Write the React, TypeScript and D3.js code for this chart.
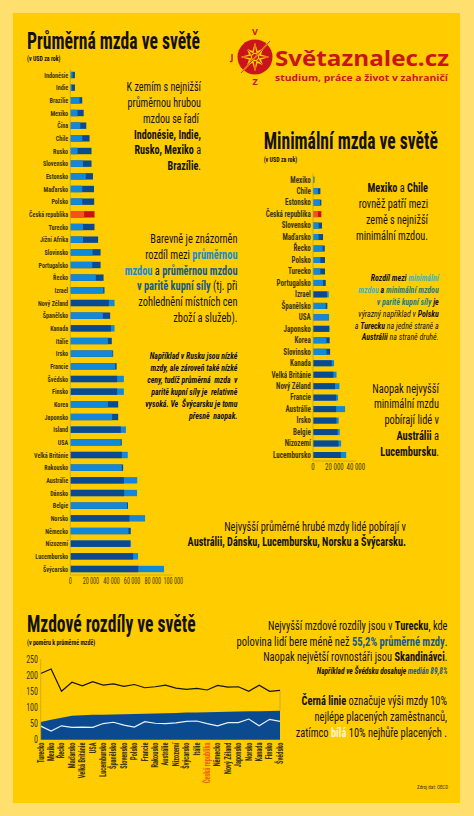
import React, { useEffect, useRef } from 'react';
import * as d3 from 'd3';

const avgCountries = ['Indonésie', 'Indie', 'Brazílie', 'Mexiko', 'Čína', 'Chile', 'Rusko', 'Slovensko', 'Estonsko', 'Maďarsko', 'Polsko', 'Česká republika', 'Turecko', 'Jižní Afrika', 'Slovinsko', 'Portugalsko', 'Řecko', 'Izrael', 'Nový Zéland', 'Španělsko', 'Kanada', 'Itálie', 'Irsko', 'Francie', 'Švédsko', 'Finsko', 'Korea', 'Japonsko', 'Island', 'USA', 'Velká Británie', 'Rakousko', 'Austrálie', 'Dánsko', 'Belgie', 'Norsko', 'Německo', 'Nizozemí', 'Lucembursko', 'Švýcarsko'];
const avgNominal = [2200, 1500, 9000, 7000, 9700, 11600, 7000, 12300, 15000, 11600, 11600, 13500, 12300, 12300, 21600, 21300, 24800, 32000, 43000, 31600, 43000, 36500, 41000, 43500, 52000, 52000, 36500, 40600, 54000, 49000, 55800, 50000, 65000, 64800, 55000, 72600, 56500, 59000, 65800, 91000];
const avgPpp = [4500, 4500, 11600, 13000, 15500, 18700, 20600, 20600, 22000, 23000, 23200, 23500, 23500, 27000, 29400, 29400, 32300, 33200, 37400, 38700, 39400, 40300, 41600, 45000, 45500, 45500, 46500, 46500, 49000, 50000, 50000, 51300, 52000, 52300, 56000, 57400, 58700, 58000, 61000, 66000];
const avgTicks = [0, 20000, 40000, 60000, 80000, 100000];

const minCountries = ['Mexiko', 'Chile', 'Estonsko', 'Česká republika', 'Slovensko', 'Maďarsko', 'Řecko', 'Polsko', 'Turecko', 'Portugalsko', 'Izrael', 'Španělsko', 'USA', 'Japonsko', 'Korea', 'Slovinsko', 'Kanada', 'Velká Británie', 'Nový Zéland', 'Francie', 'Austrálie', 'Irsko', 'Belgie', 'Nizozemí', 'Lucembursko'];
const minNominal = [1000, 4700, 6500, 4700, 5300, 5300, 9000, 6900, 6900, 9400, 14700, 11900, 14900, 15600, 12500, 12500, 19700, 22000, 24700, 23400, 30000, 24000, 25000, 26300, 31000];
const minPpp = [1300, 6900, 7800, 7800, 8400, 9400, 11000, 11200, 11200, 11900, 13000, 13400, 15000, 15000, 15600, 16000, 17500, 19000, 20600, 21600, 21600, 21900, 23000, 23800, 26000];
const minTicks = [0, 20000, 40000];

const gapCountries = ['Turecko', 'Mexiko', 'Řecko', 'Maďarsko', 'Velká Británie', 'USA', 'Lucembursko', 'Španělsko', 'Slovensko', 'Polsko', 'Francie', 'Rakousko', 'Austrálie', 'Nizozemí', 'Švýcarsko', 'Itálie', 'Česká republika', 'Německo', 'Nový Zéland', 'Japonsko', 'Norsko', 'Kanada', 'Finsko', 'Švédsko'];
const gapTop = [205, 219, 150, 178, 167, 180, 169, 173, 165, 171, 161, 164, 169, 160, 156, 159, 154, 168, 163, 164, 150, 169, 150, 153];
const gapMedian = [55.2, 62, 68, 74, 76, 77, 77.5, 78, 79, 80, 80.5, 81, 82, 83, 84, 84.5, 85, 86, 86.5, 87, 88, 88.5, 89, 89.8];
const gapBottom = [42, 27, 43, 38, 39, 38, 50, 54, 45, 39, 56, 51, 50, 52, 57, 58, 50, 43, 53, 53, 64, 43, 63, 57];
const gapTicks = [0, 50, 100, 150, 200, 250];

const FONT = "'Liberation Sans Narrow', 'Roboto Condensed', sans-serif";
const LIGHT = '#1488d8';
const DARK = '#0c4a90';
const AXIS = '#c9a227';
const INK = '#14110a';
const LOGO_RED = '#c9141c';
const formatTick = d3.formatLocale({ decimal: ',', thousands: ' ', grouping: [3], currency: ['', ''] }).format(',');

type TxtProps = { x: number; y: number; size: number; sx?: number; anchor?: string; bold?: boolean; italic?: boolean; fill?: string; children: React.ReactNode };

const Txt = ({ x, y, size, sx = 0.77, anchor = 'end', bold, italic, fill = INK, children }: TxtProps) => (
  <text
    transform={`translate(${x},${y}) scale(${sx},1)`}
    textAnchor={anchor}
    fontFamily={FONT}
    fontSize={size}
    fontWeight={bold ? 700 : 400}
    fontStyle={italic ? 'italic' : 'normal'}
    fill={fill}
    xmlSpace="preserve"
  >
    {children}
  </text>
);

const B = ({ c, children }: { c?: string; children: React.ReactNode }) => (
  <tspan fontWeight={700} fill={c}>{children}</tspan>
);

function drawBars(
  root: d3.Selection<SVGGElement, unknown, null, undefined>,
  names: string[], nominal: number[], ppp: number[], ticks: number[],
  xRange: [number, number], yRange: [number, number], barH: number, labelSize: number, tickSize: number,
) {
  const x = d3.scaleLinear().domain([0, ticks[ticks.length - 1]]).range(xRange);
  const y = d3.scalePoint().domain(names).range(yRange);

  names.forEach((name, i) => {
    const isCz = name === 'Česká republika';
    const bars = [
      { v: nominal[i], c: isCz ? '#f4511e' : LIGHT },
      { v: ppp[i], c: isCz ? '#cc0f10' : DARK },
    ].sort((a, b) => b.v - a.v);
    bars.forEach(b => {
      root.append('rect')
        .attr('x', x(0))
        .attr('y', (y(name) as number) - barH / 2)
        .attr('width', x(b.v) - x(0))
        .attr('height', barH)
        .attr('fill', b.c);
    });
    root.append('text')
      .attr('transform', `translate(${x(0) - 2.2},${(y(name) as number) + 2.8}) scale(0.8,1)`)
      .attr('text-anchor', 'end')
      .attr('font-family', FONT)
      .attr('font-size', labelSize)
      .attr('font-weight', 700)
      .attr('fill', '#3d3410')
      .text(name);
  });

  const axisY = yRange[1] + 6;
  root.append('line')
    .attr('x1', x(0)).attr('x2', x(0))
    .attr('y1', yRange[0] - 6).attr('y2', axisY)
    .attr('stroke', AXIS).attr('stroke-width', 0.8);
  root.append('line')
    .attr('x1', xRange[0]).attr('x2', xRange[1])
    .attr('y1', axisY).attr('y2', axisY)
    .attr('stroke', AXIS).attr('stroke-width', 0.8);

  ticks.forEach(t => {
    root.append('text')
      .attr('transform', `translate(${x(t)},${axisY + 8.5}) scale(0.72,1)`)
      .attr('text-anchor', 'middle')
      .attr('font-family', FONT)
      .attr('font-size', tickSize)
      .attr('fill', '#3d3410')
      .text(formatTick(t));
  });
}

function drawGap(root: d3.Selection<SVGGElement, unknown, null, undefined>) {
  const x = d3.scalePoint().domain(gapCountries).range([40.7, 280]);
  const y = d3.scaleLinear().domain([0, 250]).range([739.7, 659]);
  const px = (i: number) => x(gapCountries[i]) as number;

  const area = d3.area<number>().x((_, i) => px(i)).y0(y(0)).y1(d => y(d));
  const line = d3.line<number>().x((_, i) => px(i)).y(d => y(d));

  root.append('path').attr('d', area(gapMedian)).attr('fill', DARK);
  root.append('line')
    .attr('x1', px(23)).attr('x2', px(23))
    .attr('y1', y(gapTop[23])).attr('y2', y(gapMedian[23]))
    .attr('stroke', AXIS).attr('stroke-width', 0.8);
  root.append('path').attr('d', line(gapTop)).attr('fill', 'none').attr('stroke', '#17130a').attr('stroke-width', 1.2);
  root.append('path').attr('d', line(gapBottom)).attr('fill', 'none').attr('stroke', '#e8f1f8').attr('stroke-width', 1.2);

  root.append('line')
    .attr('x1', x(gapCountries[0]) as number).attr('x2', x(gapCountries[0]) as number)
    .attr('y1', y(250)).attr('y2', y(0))
    .attr('stroke', AXIS).attr('stroke-width', 0.8);

  gapTicks.forEach(t => {
    root.append('text')
      .attr('transform', `translate(38,${y(t) + 3.6}) scale(0.8,1)`)
      .attr('text-anchor', 'end')
      .attr('font-family', FONT)
      .attr('font-size', 10)
      .attr('fill', '#3d3410')
      .text(t);
  });

  gapCountries.forEach(name => {
    root.append('text')
      .attr('transform', `translate(${(x(name) as number) + 2.8},742.5) rotate(-90) scale(0.75,1)`)
      .attr('text-anchor', 'end')
      .attr('font-family', FONT)
      .attr('font-size', 8.5)
      .attr('font-weight', 700)
      .attr('fill', name === 'Česká republika' ? '#f0600f' : '#3d3410')
      .text(name);
  });
}

const Logo = () => {
  const rays = d3.range(8).map(i => (i * Math.PI) / 4);
  const star = d3.lineRadial<number>().angle((_, i) => (i * Math.PI) / 8).radius((_, i) => (i % 2 ? 6.5 : i % 4 === 0 ? 14.5 : 11.5)).curve(d3.curveLinearClosed)(d3.range(16));
  return (
    <g>
      <circle cx={255} cy={57} r={17.5} fill={LOGO_RED} />
      <path d={star || ''} transform="translate(255,57)" fill="#ffcc00" />
      <path d={star || ''} transform="translate(255,57) scale(0.62)" fill={LOGO_RED} />
      {rays.map((a, i) => (
        <line key={i} x1={255 + 6 * Math.cos(a)} y1={57 + 6 * Math.sin(a)} x2={255 + 12 * Math.cos(a)} y2={57 + 12 * Math.sin(a)} stroke={LOGO_RED} strokeWidth={0.8} />
      ))}
      <circle cx={255} cy={57} r={3.6} fill="none" stroke="#ffcc00" strokeWidth={1.3} />
      <line x1={241} y1={73} x2={270} y2={41} stroke="#ffcc00" strokeWidth={1.6} />
      <line x1={241} y1={73} x2={270} y2={41} stroke={LOGO_RED} strokeWidth={0.8} />
      <text x={255} y={35} textAnchor="middle" fontFamily="'Open Sans', sans-serif" fontWeight={700} fontSize={9} fill={LOGO_RED}>V</text>
      <text x={255} y={85} textAnchor="middle" fontFamily="'Open Sans', sans-serif" fontWeight={700} fontSize={9} fill={LOGO_RED}>Z</text>
      <text x={232} y={60} textAnchor="middle" fontFamily="'Open Sans', sans-serif" fontWeight={700} fontSize={9} fill={LOGO_RED}>J</text>
      <text x={275} y={65.5} fontFamily="'Open Sans', sans-serif" fontWeight={700} fontSize={22} fill={LOGO_RED} textLength={174} lengthAdjust="spacingAndGlyphs">Světaznalec.cz</text>
      <text x={275} y={81} fontFamily="'Open Sans', sans-serif" fontWeight={700} fontSize={9.5} fill={LOGO_RED} textLength={173} lengthAdjust="spacingAndGlyphs">studium, práce a život v zahraničí</text>
    </g>
  );
};

const App: React.FC = () => {
  const chartRef = useRef<SVGGElement>(null);

  useEffect(() => {
    if (!chartRef.current) return;
    const root = d3.select(chartRef.current);
    root.selectAll('*').remove();
    drawBars(root, avgCountries, avgNominal, avgPpp, avgTicks, [70.3, 173.3], [75, 569], 6.4, 7.6, 8.5);
    drawBars(root, minCountries, minNominal, minPpp, minTicks, [313, 355.8], [179.7, 455], 6, 8.8, 9.6);
    drawGap(root);
  }, []);

  const TEAL = '#4fb0b0';
  const TEAL_D = '#2c7c78';
  const NAVY = '#175a8a';

  return (
    <svg width={474} height={816} style={{ position: 'absolute', left: 0, top: 0, display: 'block' }}>
      <rect width={474} height={816} fill="#ffdf6e" />
      <rect x={13} y={13} width={447} height={790} fill="#ffcc00" />

      <Logo />

      {/* Titles */}
      <Txt x={27} y={48.5} size={23} sx={0.765} anchor="start" bold>Průměrná mzda ve světě</Txt>
      <Txt x={27} y={61} size={7.4} sx={0.8} anchor="start" bold>(v USD za rok)</Txt>
      <Txt x={263.7} y={148.5} size={23} sx={0.765} anchor="start" bold>Minimální mzda ve světě</Txt>
      <Txt x={263.7} y={161.5} size={7.4} sx={0.8} anchor="start" bold>(v USD za rok)</Txt>
      <Txt x={27} y={632} size={23} sx={0.765} anchor="start" bold>Mzdové rozdíly ve světě</Txt>
      <Txt x={27} y={644.5} size={7.4} sx={0.8} anchor="start" bold>(v poměru k průměrné mzdě)</Txt>

      <g ref={chartRef} />

      {/* Average wage notes */}
      <Txt x={201} y={91} size={13.5} sx={0.75}>K zemím s nejnižší</Txt>
      <Txt x={201} y={107} size={13.5} sx={0.75}>průměrnou hrubou</Txt>
      <Txt x={199} y={122.5} size={13.5} sx={0.75}>mzdou se řadí</Txt>
      <Txt x={201} y={138.5} size={13.5} sx={0.75} bold>Indonésie, Indie,</Txt>
      <Txt x={201} y={154} size={13.5} sx={0.75}><B>Rusko, Mexiko</B> a</Txt>
      <Txt x={201} y={170} size={13.5} sx={0.75}><B>Brazílie</B>.</Txt>

      <Txt x={237.5} y={243} size={13.5}>Barevně je znázorněn</Txt>
      <Txt x={237.5} y={259} size={13.5}>rozdíl mezi <B c={LIGHT}>průměrnou</B></Txt>
      <Txt x={237.5} y={274.5} size={13.5}><B c={LIGHT}>mzdou</B> a <B c={NAVY}>průměrnou mzdou</B></Txt>
      <Txt x={237.5} y={290} size={13.5}><B c={NAVY}>v paritě kupní síly</B> (tj. při</Txt>
      <Txt x={237.5} y={306} size={13.5}>zohlednění místních cen</Txt>
      <Txt x={237.5} y={321.5} size={13.5}>zboží a služeb).</Txt>

      <Txt x={237.5} y={358.5} size={9.8} sx={0.8} italic bold>Například v Rusku jsou nízké</Txt>
      <Txt x={237.5} y={370.5} size={9.8} sx={0.8} italic bold>mzdy, ale zároveň také nízké</Txt>
      <Txt x={237.5} y={382.5} size={9.8} sx={0.8} italic bold>ceny, tudíž průměrná  mzda  v</Txt>
      <Txt x={237.5} y={394.5} size={9.8} sx={0.8} italic bold>paritě kupní síly je  relativně</Txt>
      <Txt x={237.5} y={406.5} size={9.8} sx={0.8} italic bold>vysoká. Ve  Švýcarsku je tomu</Txt>
      <Txt x={237.5} y={418.5} size={9.8} sx={0.8} italic bold>přesně  naopak.</Txt>

      <Txt x={406} y={531} size={12.8} sx={0.81}>Nejvyšší průměrné hrubé mzdy lidé pobírají v</Txt>
      <Txt x={406} y={546} size={12.8} sx={0.8} bold>Austrálii, Dánsku, Lucembursku, Norsku a Švýcarsku.</Txt>

      {/* Minimum wage notes */}
      <Txt x={428} y={192} size={13.5} sx={0.76}><B>Mexiko</B> a <B>Chile</B></Txt>
      <Txt x={428} y={208} size={13.5} sx={0.76}>rovněž patří mezi</Txt>
      <Txt x={428} y={223.5} size={13.5} sx={0.76}>země s nejnižší</Txt>
      <Txt x={428} y={239.5} size={13.5} sx={0.76}>minimální mzdou.</Txt>

      <Txt x={438.7} y={281} size={9.2} sx={0.86} italic bold>Rozdíl mezi <tspan fill={TEAL}>minimální</tspan></Txt>
      <Txt x={438.7} y={293} size={9.2} sx={0.86} italic bold><tspan fill={TEAL}>mzdou</tspan> a <tspan fill={TEAL_D}>minimální mzdou</tspan></Txt>
      <Txt x={438.7} y={305} size={9.2} sx={0.86} italic bold><tspan fill={TEAL_D}>v paritě kupní síly</tspan> je</Txt>
      <Txt x={438.7} y={316.5} size={9.2} sx={0.86} italic>výrazný například v <B>Polsku</B></Txt>
      <Txt x={438.7} y={328.5} size={9.2} sx={0.86} italic>a <B>Turecku</B> na jedné straně a</Txt>
      <Txt x={438.7} y={340} size={9.2} sx={0.86} italic><B>Austrálii</B> na straně druhé.</Txt>

      <Txt x={439} y={392.5} size={13.5}>Naopak nejvyšší</Txt>
      <Txt x={439} y={408} size={13.5}>minimální mzdu</Txt>
      <Txt x={439} y={424} size={13.5}>pobírají lidé v</Txt>
      <Txt x={439} y={440} size={13.5}><B>Austrálii</B> a</Txt>
      <Txt x={439} y={456} size={13.5}><B>Lucembursku</B>.</Txt>

      {/* Wage gap notes */}
      <Txt x={447.5} y={630} size={13} sx={0.8}>Nejvyšší mzdové rozdíly jsou v <B>Turecku</B>, kde</Txt>
      <Txt x={447.5} y={646} size={13} sx={0.81}>polovina lidí bere méně než <B c={NAVY}>55,2% průměrné mzdy</B>.</Txt>
      <Txt x={447.5} y={661} size={13} sx={0.8}>Naopak největší rovnostáři jsou <B>Skandinávci</B>.</Txt>
      <Txt x={447.5} y={673.5} size={9.2} sx={0.8} italic bold>Například ve Švédsku dosahuje <tspan fill={NAVY}>medián 89,8%</tspan></Txt>

      <Txt x={447} y={705} size={13} sx={0.8}><B>Černá linie</B> označuje výši mzdy 10%</Txt>
      <Txt x={447} y={721} size={13} sx={0.8}>nejlépe placených zaměstnanců,</Txt>
      <Txt x={447} y={737} size={13} sx={0.8}>zatímco <B c="#fff7d0">bílá</B> 10% nejhůře placených .</Txt>

      <Txt x={448} y={789} size={6.2} sx={0.8} fill="#3d3410">Zdroj dat: OECD</Txt>
    </svg>
  );
};

export default App;
